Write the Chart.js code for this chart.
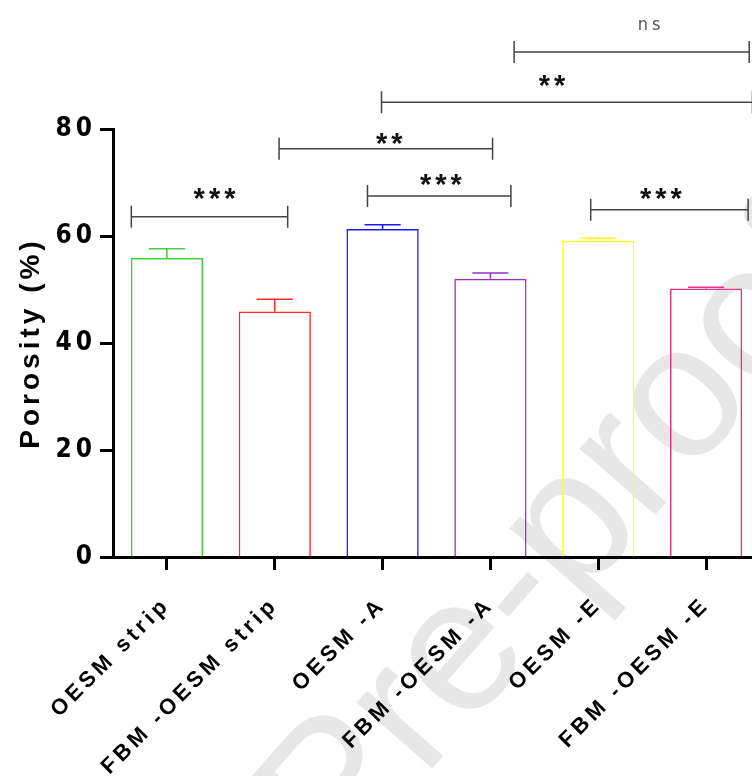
<!DOCTYPE html>
<html>
<head>
<meta charset="utf-8">
<script src="https://cdn.jsdelivr.net/npm/chart.js@4.4.1/dist/chart.umd.min.js"></script>
<style>
    html, body { margin: 0; padding: 0; background: #fff; overflow: hidden; }
    canvas { display: block; }
</style>
</head>
<body>
<canvas id="porosityChart" width="760" height="776"></canvas>
<script>
const categories = ['OESM strip', 'FBM -OESM strip', 'OESM -A', 'FBM -OESM -A', 'OESM -E', 'FBM -OESM -E'];
const porosity = [55.9, 45.9, 61.3, 52.0, 59.1, 50.2];
const porosityErr = [1.7, 2.3, 0.8, 1.1, 0.5, 0.2];
const barColors = ['#3fcf3f', '#ff2a2a', '#1a1aff', '#9a30c0', '#ffff1a', '#e0358a'];
const yTicks = [0, 20, 40, 60, 80];

// significance brackets (category index units / porosity units)
const sigLabels = ['***', '**', '***', '***', '**', 'ns'];
const sigFrom = [-0.33, 1.04, 1.86, 3.93, 1.99, 3.22];
const sigTo = [1.12, 3.02, 3.19, 5.39, 5.43, 5.40];
const sigLevel = [63.6, 76.3, 67.5, 64.9, 85.0, 94.4];
const sigLabelAt = [0.46, 2.08, 2.56, 4.60, 3.59, 4.49];
const sigLabelLift = [23, 10, 16, 16, 21, 27];

const SPACING = '4px';

// letter spacing like the original export
const spacingPlugin = {
    id: 'spacing',
    beforeUpdate(chart) { chart.ctx.letterSpacing = SPACING; },
    beforeDraw(chart) { chart.ctx.letterSpacing = SPACING; }
};

// faint journal watermark behind everything
const watermarkPlugin = {
    id: 'watermark',
    beforeDraw(chart) {
        const ctx = chart.ctx;
        ctx.save();
        ctx.letterSpacing = '0px';
        ctx.translate(490, 612);
        ctx.rotate(-0.85);
        ctx.fillStyle = '#e7e7e7';
        ctx.font = '190px "Liberation Sans", Arial, sans-serif';
        ctx.textBaseline = 'alphabetic';
        ctx.textAlign = 'right';
        ctx.fillText('Journal Pre', 0, 60);
        ctx.textAlign = 'left';
        ctx.fillText('-proof', 0, 60);
        ctx.restore();
    }
};

// upper error bars and significance brackets
const annotationPlugin = {
    id: 'annotations',
    afterDatasetsDraw(chart) {
        const ctx = chart.ctx;
        const x = chart.scales.x;
        const y = chart.scales.y;
        const meta = chart.getDatasetMeta(0);

        ctx.save();
        ctx.lineWidth = 1.5;
        meta.data.forEach((bar, i) => {
            const top = y.getPixelForValue(porosity[i] + porosityErr[i]);
            const half = bar.width / 4;
            ctx.strokeStyle = barColors[i];
            ctx.beginPath();
            ctx.moveTo(bar.x, bar.y);
            ctx.lineTo(bar.x, top);
            ctx.moveTo(bar.x - half, top);
            ctx.lineTo(bar.x + half, top);
            ctx.stroke();
        });

        const step = x.getPixelForValue(1) - x.getPixelForValue(0);
        const px = v => x.getPixelForValue(0) + v * step;
        ctx.strokeStyle = '#444';
        ctx.lineWidth = 1.5;
        sigLabels.forEach((label, i) => {
            const x1 = px(sigFrom[i]);
            const x2 = px(sigTo[i]);
            const yy = y.getPixelForValue(sigLevel[i]);
            ctx.beginPath();
            ctx.moveTo(x1, yy);
            ctx.lineTo(x2, yy);
            ctx.moveTo(x1, yy - 11);
            ctx.lineTo(x1, yy + 11);
            ctx.moveTo(x2, yy - 11);
            ctx.lineTo(x2, yy + 11);
            ctx.stroke();

            const isNs = label === 'ns';
            ctx.font = isNs ? '18px "Liberation Sans Narrow", "DejaVu Sans Condensed", sans-serif'
                            : 'bold 29px "Liberation Sans", Arial, sans-serif';
            ctx.fillStyle = isNs ? '#555' : '#111';
            ctx.letterSpacing = '4px';
            ctx.textAlign = 'center';
            ctx.textBaseline = 'alphabetic';
            const m = ctx.measureText(label);
            const cy = yy - sigLabelLift[i];
            const base = cy + (m.actualBoundingBoxAscent - m.actualBoundingBoxDescent) / 2;
            ctx.fillText(label, px(sigLabelAt[i]), base);
        });
        ctx.restore();
    }
};

const ctx = document.getElementById('porosityChart').getContext('2d');

new Chart(ctx, {
    type: 'bar',
    data: {
        labels: categories,
        datasets: [{
            label: 'Porosity (%)',
            data: porosity,
            backgroundColor: 'rgba(255,255,255,0)',
            borderColor: barColors,
            borderWidth: 1.5,
            categoryPercentage: 1,
            barPercentage: 0.67
        }]
    },
    options: {
        responsive: false,
        animation: false,
        layout: { padding: { top: 129, right: 0, left: 0, bottom: 0 } },
        plugins: {
            legend: { display: false },
            tooltip: { enabled: false }
        },
        scales: {
            x: {
                offset: true,
                grid: {
                    offset: false,
                    drawOnChartArea: false,
                    tickLength: 13,
                    tickWidth: 3,
                    tickColor: '#000'
                },
                border: { display: true, color: '#000', width: 3 },
                ticks: {
                    autoSkip: false,
                    minRotation: 45,
                    maxRotation: 45,
                    padding: 22,
                    color: '#000',
                    font: { family: '"Liberation Sans", Arial, sans-serif', size: 22, weight: 'bold' }
                },
                afterFit(scale) { scale.height = 776 - 557; }
            },
            y: {
                min: 0,
                max: 80,
                grid: {
                    drawOnChartArea: false,
                    tickLength: 13,
                    tickWidth: 3,
                    tickColor: '#000'
                },
                border: { display: true, color: '#000', width: 3 },
                afterBuildTicks(scale) { scale.ticks = yTicks.map(v => ({ value: v })); },
                ticks: {
                    padding: 4,
                    color: '#000',
                    font: { family: '"Liberation Sans Narrow", "DejaVu Sans Condensed", sans-serif', size: 26, weight: 'bold' }
                },
                title: {
                    display: true,
                    text: 'Porosity (%)',
                    color: '#000',
                    padding: { top: 14, bottom: 0 },
                    font: { family: '"Liberation Sans", Arial, sans-serif', size: 28, weight: 'bold' }
                },
                afterFit(scale) { scale.width = 113; }
            }
        }
    },
    plugins: [spacingPlugin, watermarkPlugin, annotationPlugin]
});
</script>
</body>
</html>
